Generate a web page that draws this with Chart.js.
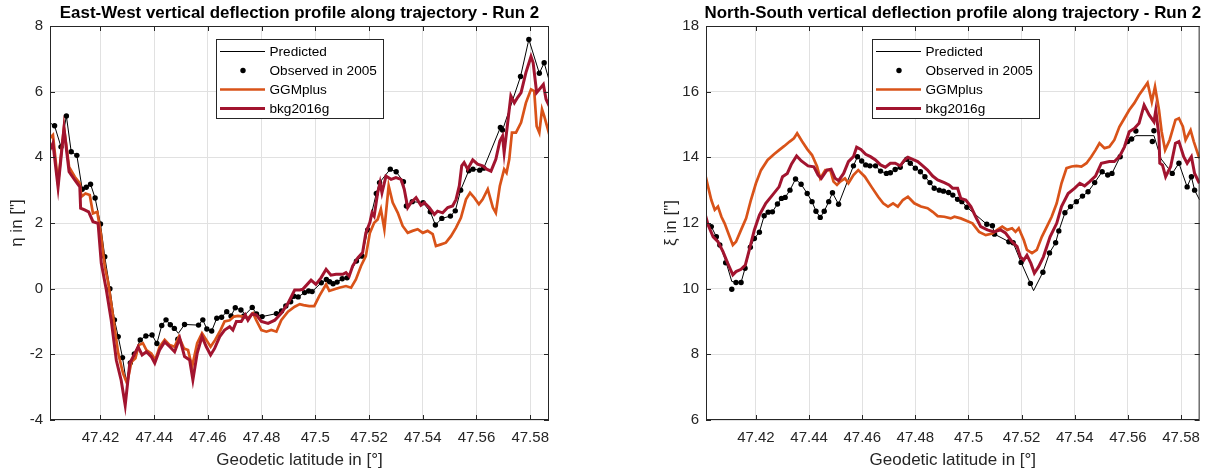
<!DOCTYPE html>
<html>
<head>
<meta charset="utf-8">
<script src="https://cdn.jsdelivr.net/npm/chart.js@4.4.1/dist/chart.umd.min.js"></script>
<style>
  html, body { margin: 0; padding: 0; background: #fff; }
  body { width: 1209px; height: 473px; position: relative; overflow: hidden; }
  .panel { position: absolute; top: 0; height: 473px; }
</style>
</head>
<body>
<div class="panel" style="left:0;width:604px"><canvas id="ew" width="604" height="473"></canvas></div>
<div class="panel" style="left:654px;width:555px"><canvas id="ns" width="555" height="473"></canvas></div>
<script>
// ---------- shared axis values ----------
const latTicks = [47.42, 47.44, 47.46, 47.48, 47.5, 47.52, 47.54, 47.56, 47.58];
const ewTicks = [-4, -2, 0, 2, 4, 6, 8];
const nsTicks = [6, 8, 10, 12, 14, 16, 18];
const seriesNames = ['Predicted', 'Observed in 2005', 'GGMplus', 'bkg2016g'];

// ---------- East-West component (eta) ----------
const ewObsLat = [47.4029,47.4053,47.4073,47.4091,47.4112,47.4132,47.4147,47.4163,47.4180,47.4200,
  47.4216,47.4235,47.4252,47.4266,47.4282,47.4311,47.4326,47.4348,47.4369,47.4392,
  47.4410,47.4428,47.4444,47.4460,47.4475,47.4488,47.4513,47.4565,47.4581,47.4596,
  47.4614,47.4633,47.4651,47.4670,47.4686,47.4702,47.4723,47.4734,47.4765,47.4781,
  47.4802,47.4855,47.4874,47.4890,47.4908,47.4920,47.4936,47.4960,47.4975,47.4988,
  47.5022,47.5041,47.5053,47.5066,47.5081,47.5100,47.5118,47.5153,47.5174,47.5195,
  47.5227,47.5239,47.5279,47.5301,47.5328,47.5339,47.5361,47.5401,47.5428,47.5447,
  47.5471,47.5503,47.5521,47.5541,47.5571,47.5587,47.5612,47.5627,47.5689,47.5697,
  47.5764,47.5795,47.5834,47.5852];
const ewObsVal = [4.96,4.32,5.26,4.17,4.06,3.03,3.09,3.18,2.76,1.97,
  0.97,0.00,-0.95,-1.46,-2.10,-2.26,-1.99,-1.56,-1.44,-1.41,
  -1.67,-1.12,-0.95,-1.10,-1.21,-1.54,-1.09,-1.11,-0.95,-1.23,
  -1.29,-0.90,-0.87,-0.70,-0.83,-0.58,-0.65,-0.83,-0.57,-0.77,
  -0.85,-0.76,-0.68,-0.53,-0.40,-0.23,-0.25,-0.12,-0.07,-0.09,
  0.18,0.28,0.21,0.15,0.20,0.30,0.33,0.84,0.99,1.79,
  2.90,3.23,3.64,3.56,3.26,2.52,2.65,2.62,2.34,1.94,
  2.14,2.21,2.37,3.00,3.59,3.64,3.61,3.67,4.91,4.83,
  6.46,7.59,6.56,6.88];

const ewPredLat = [47.4012,47.4029,47.4053,47.4073,47.4091,47.4112,47.4132,47.4147,47.4163,47.4180,47.4200,
  47.4216,47.4235,47.4252,47.4266,47.4282,47.4296,47.4311,47.4326,47.4348,47.4369,47.4392,
  47.4410,47.4428,47.4444,47.4460,47.4475,47.4490,47.4513,47.4565,47.4581,47.4596,
  47.4614,47.4633,47.4651,47.4670,47.4686,47.4702,47.4723,47.4740,47.4765,47.4781,
  47.4802,47.4855,47.4874,47.4890,47.4908,47.4920,47.4936,47.4960,47.4975,47.4988,
  47.5022,47.5041,47.5053,47.5066,47.5081,47.5100,47.5118,47.5153,47.5174,47.5195,
  47.5227,47.5239,47.5279,47.5301,47.5328,47.5339,47.5361,47.5401,47.5428,47.5447,
  47.5471,47.5503,47.5521,47.5541,47.5571,47.5587,47.5612,47.5627,47.5689,47.5697,
  47.5764,47.5795,47.5834,47.5852,47.5870];
const ewPredVal = [5.05,4.96,4.32,5.26,4.17,4.06,3.03,3.09,3.18,2.76,1.97,
  0.97,0.00,-0.95,-1.46,-2.10,-2.83,-2.26,-1.99,-1.56,-1.44,-1.41,
  -1.67,-1.12,-0.95,-1.10,-1.21,-1.36,-1.09,-1.11,-0.95,-1.23,
  -1.29,-0.90,-0.87,-0.70,-0.83,-0.58,-0.65,-0.78,-0.57,-0.77,
  -0.85,-0.76,-0.68,-0.53,-0.40,-0.23,-0.25,-0.12,-0.07,-0.09,
  0.18,0.28,0.21,0.15,0.20,0.30,0.33,0.84,0.99,1.79,
  2.90,3.23,3.64,3.56,3.26,2.52,2.65,2.62,2.34,1.94,
  2.14,2.21,2.37,3.00,3.59,3.64,3.61,3.67,4.91,4.83,
  6.46,7.59,6.56,6.88,6.36];

const ewGgmLat = [47.4011,47.4023,47.4042,47.4064,47.4083,47.4104,47.4123,47.4129,47.4144,47.4160,
  47.4172,47.4188,47.4201,47.4216,47.4228,47.4247,47.4266,47.4284,47.4299,47.4315,
  47.4330,47.4342,47.4358,47.4371,47.4389,47.4404,47.4420,47.4439,47.4458,47.4476,
  47.4492,47.4511,47.4526,47.4541,47.4560,47.4578,47.4594,47.4610,47.4627,47.4647,
  47.4662,47.4681,47.4697,47.4712,47.4731,47.4749,47.4768,47.4780,47.4799,47.4818,
  47.4836,47.4855,47.4873,47.4898,47.4923,47.4942,47.4956,47.4977,47.4996,47.5015,
  47.5040,47.5052,47.5071,47.5089,47.5114,47.5133,47.5151,47.5170,47.5188,47.5203,
  47.5219,47.5232,47.5244,47.5257,47.5273,47.5288,47.5307,47.5325,47.5344,47.5362,
  47.5381,47.5400,47.5418,47.5437,47.5449,47.5468,47.5486,47.5505,47.5524,47.5542,
  47.5561,47.5576,47.5592,47.5609,47.5623,47.5642,47.5661,47.5672,47.5687,47.5703,
  47.5712,47.5722,47.5732,47.5747,47.5766,47.5784,47.5803,47.5815,47.5824,47.5834,
  47.5844,47.5852,47.5871];
const ewGgmVal = [4.58,4.68,3.21,4.91,3.71,3.41,3.21,2.80,2.90,2.85,
  2.29,2.34,1.69,0.67,0.21,-0.85,-1.97,-2.58,-2.89,-2.23,
  -2.12,-1.72,-1.66,-1.87,-1.97,-2.17,-1.77,-1.56,-1.72,-1.77,
  -1.46,-1.82,-1.87,-2.38,-1.66,-1.36,-1.56,-1.77,-1.56,-1.26,
  -1.00,-0.96,-0.85,-0.83,-0.85,-0.90,-0.75,-0.96,-1.26,-1.31,
  -1.26,-1.31,-0.96,-0.70,-0.55,-0.47,-0.50,-0.53,-0.53,-0.22,
  0.13,-0.07,-0.02,0.03,0.08,0.03,0.28,0.69,0.99,1.70,
  2.01,2.11,2.42,1.81,3.13,2.62,2.31,1.91,1.70,1.76,
  1.81,1.70,1.76,1.66,1.30,1.35,1.40,1.60,1.86,2.16,
  2.72,2.92,2.77,2.57,2.72,3.03,2.47,2.31,3.13,3.64,
  3.53,3.94,4.75,4.75,5.06,5.66,6.07,6.02,4.95,4.75,
  5.46,5.26,4.70];

const ewBkgLat = [47.4011,47.4023,47.4042,47.4064,47.4083,47.4104,47.4123,47.4126,47.4141,47.4156,
  47.4172,47.4191,47.4203,47.4222,47.4240,47.4259,47.4277,47.4292,47.4309,47.4325,
  47.4340,47.4355,47.4371,47.4389,47.4402,47.4420,47.4439,47.4458,47.4476,47.4495,
  47.4513,47.4532,47.4544,47.4560,47.4578,47.4594,47.4610,47.4625,47.4644,47.4662,
  47.4681,47.4693,47.4706,47.4724,47.4739,47.4749,47.4764,47.4780,47.4799,47.4824,
  47.4849,47.4873,47.4898,47.4923,47.4942,47.4953,47.4984,47.5002,47.5021,47.5040,
  47.5058,47.5077,47.5102,47.5114,47.5126,47.5139,47.5158,47.5176,47.5188,47.5203,
  47.5211,47.5219,47.5232,47.5241,47.5248,47.5263,47.5282,47.5300,47.5319,47.5331,
  47.5344,47.5356,47.5375,47.5393,47.5406,47.5424,47.5443,47.5455,47.5474,47.5493,
  47.5511,47.5524,47.5536,47.5545,47.5554,47.5567,47.5586,47.5604,47.5623,47.5638,
  47.5654,47.5672,47.5687,47.5697,47.5703,47.5728,47.5741,47.5753,47.5766,47.5784,
  47.5803,47.5811,47.5824,47.5849,47.5859,47.5871];
const ewBkgVal = [4.22,4.43,3.09,4.88,3.56,3.31,3.10,2.45,2.40,2.34,
  2.04,1.99,0.77,-0.05,-0.96,-2.18,-2.79,-3.55,-2.27,-2.02,
  -1.77,-2.02,-1.92,-2.07,-2.27,-1.87,-1.62,-1.77,-1.92,-1.51,
  -2.07,-2.17,-2.78,-1.97,-1.46,-1.77,-2.02,-1.82,-1.46,-1.26,
  -1.16,-1.26,-1.00,-1.00,-0.80,-0.96,-0.77,-0.80,-1.00,-1.06,
  -0.96,-0.75,-0.45,-0.04,-0.04,-0.02,0.26,0.13,0.33,0.59,
  0.41,0.44,0.44,0.49,0.38,0.69,0.94,1.10,1.70,2.01,
  2.31,2.21,2.92,3.23,2.92,3.43,3.33,3.38,3.33,3.03,
  2.47,2.62,2.77,2.54,2.62,2.47,2.26,2.36,2.31,2.47,
  2.52,2.72,3.13,3.74,3.84,3.64,3.92,3.79,3.74,3.64,
  3.58,3.94,4.50,4.65,4.14,5.87,5.66,5.82,5.97,6.58,
  7.07,6.88,5.97,6.22,5.77,5.56];

// ---------- North-South component (xi) ----------
const nsObsLat = [47.4032,47.4051,47.4064,47.4086,47.4109,47.4125,47.4144,47.4159,47.4179,47.4194,
  47.4213,47.4231,47.4246,47.4262,47.4281,47.4296,47.4310,47.4328,47.4349,47.4370,
  47.4393,47.4411,47.4426,47.4442,47.4457,47.4474,47.4488,47.4511,47.4567,47.4582,
  47.4598,47.4613,47.4629,47.4650,47.4669,47.4691,47.4706,47.4724,47.4743,47.4768,
  47.4781,47.4800,47.4819,47.4836,47.4855,47.4871,47.4890,47.4906,47.4925,47.4941,
  47.4959,47.4975,47.4994,47.5069,47.5090,47.5098,47.5152,47.5168,47.5198,47.5233,
  47.5280,47.5305,47.5328,47.5340,47.5363,47.5384,47.5406,47.5429,47.5450,47.5475,
  47.5503,47.5524,47.5540,47.5571,47.5599,47.5614,47.5630,47.5692,47.5698,47.5767,
  47.5792,47.5823,47.5839,47.5851];
const nsObsVal = [11.89,11.58,11.33,10.79,9.98,10.19,10.19,10.62,11.26,11.53,
  11.72,12.22,12.33,12.34,12.58,12.75,12.78,13.00,13.34,13.18,
  12.90,12.65,12.36,12.17,12.36,12.65,12.92,12.57,13.74,14.02,
  13.89,13.77,13.74,13.74,13.58,13.51,13.53,13.63,13.70,13.94,
  13.82,13.67,13.56,13.41,13.23,13.06,13.00,12.97,12.93,12.85,
  12.72,12.65,12.48,11.96,11.92,11.66,11.43,11.40,10.80,10.16,
  10.50,11.09,11.40,11.76,12.31,12.50,12.65,12.82,12.95,13.23,
  13.56,13.46,13.51,14.02,14.48,14.56,14.80,14.48,14.81,13.51,
  13.82,13.10,13.41,13.00];

const nsPredLat = [47.4012,47.4032,47.4051,47.4064,47.4086,47.4109,47.4125,47.4144,47.4159,47.4179,47.4194,
  47.4213,47.4231,47.4246,47.4262,47.4281,47.4296,47.4310,47.4328,47.4349,47.4370,
  47.4393,47.4411,47.4426,47.4442,47.4457,47.4474,47.4488,47.4511,47.4567,47.4582,
  47.4598,47.4613,47.4629,47.4650,47.4669,47.4691,47.4706,47.4724,47.4743,47.4768,
  47.4781,47.4800,47.4819,47.4836,47.4855,47.4871,47.4890,47.4906,47.4925,47.4941,
  47.4959,47.4975,47.4994,47.5069,47.5090,47.5098,47.5152,47.5168,47.5198,47.5245,
  47.5280,47.5305,47.5328,47.5340,47.5363,47.5384,47.5406,47.5429,47.5450,47.5475,
  47.5503,47.5524,47.5540,47.5571,47.5599,47.5614,47.5630,47.5698,47.5725,47.5767,
  47.5792,47.5823,47.5839,47.5851,47.5870];
const nsPredVal = [12.10,11.89,11.58,11.33,10.85,10.22,10.19,10.19,10.62,11.26,11.53,
  11.72,12.22,12.33,12.34,12.58,12.75,12.78,13.00,13.34,13.18,
  12.90,12.65,12.36,12.17,12.36,12.65,12.92,12.57,13.74,14.02,
  13.89,13.77,13.74,13.74,13.58,13.51,13.53,13.63,13.70,13.94,
  13.82,13.67,13.56,13.41,13.23,13.06,13.00,12.97,12.93,12.85,
  12.72,12.65,12.48,11.96,11.92,11.66,11.43,11.40,10.80,9.94,
  10.50,11.09,11.40,11.76,12.31,12.50,12.65,12.82,12.95,13.23,
  13.56,13.46,13.51,14.02,14.48,14.56,14.66,14.66,13.95,13.51,
  13.82,13.10,13.41,13.00,12.70];

const nsGgmLat = [47.4008,47.4020,47.4032,47.4045,47.4057,47.4070,47.4082,47.4101,47.4113,47.4125,
  47.4144,47.4163,47.4181,47.4200,47.4219,47.4244,47.4269,47.4287,47.4306,47.4327,
  47.4343,47.4355,47.4374,47.4393,47.4411,47.4430,47.4442,47.4461,47.4480,47.4492,
  47.4505,47.4517,47.4535,47.4548,47.4567,47.4585,47.4610,47.4635,47.4660,47.4679,
  47.4697,47.4716,47.4734,47.4753,47.4772,47.4796,47.4821,47.4846,47.4865,47.4884,
  47.4909,47.4933,47.4947,47.4971,47.5015,47.5040,47.5065,47.5090,47.5108,47.5127,
  47.5146,47.5164,47.5177,47.5189,47.5208,47.5220,47.5239,47.5257,47.5276,47.5295,
  47.5313,47.5332,47.5350,47.5369,47.5388,47.5406,47.5425,47.5444,47.5462,47.5478,
  47.5493,47.5512,47.5530,47.5549,47.5568,47.5587,47.5605,47.5624,47.5642,47.5657,
  47.5674,47.5690,47.5702,47.5717,47.5727,47.5740,47.5757,47.5779,47.5792,47.5807,
  47.5817,47.5836,47.5848,47.5869];
const nsGgmVal = [13.51,13.10,12.70,12.40,12.50,12.19,11.99,11.58,11.33,11.43,
  11.79,12.14,12.70,13.21,13.61,13.92,14.10,14.22,14.34,14.48,
  14.58,14.73,14.48,14.25,14.07,13.72,13.36,13.61,13.61,13.26,
  13.16,13.26,13.36,13.21,13.46,13.61,13.41,13.10,12.80,12.60,
  12.50,12.60,12.50,12.70,12.80,12.60,12.50,12.45,12.34,12.21,
  12.19,12.14,12.19,12.14,11.99,11.73,11.63,11.68,11.79,11.89,
  11.79,11.84,11.73,11.84,11.48,11.18,11.08,11.18,11.58,11.89,
  12.19,12.60,13.21,13.67,13.72,13.74,13.72,13.82,14.02,14.22,
  14.43,14.28,14.32,14.53,14.93,15.19,15.44,15.65,15.90,16.07,
  16.27,15.69,16.15,15.44,14.78,14.22,14.53,15.14,15.19,14.93,
  14.53,14.83,14.48,13.97];

const nsBkgLat = [47.4008,47.4020,47.4039,47.4057,47.4076,47.4094,47.4113,47.4125,47.4144,47.4160,
  47.4175,47.4194,47.4213,47.4237,47.4262,47.4287,47.4300,47.4318,47.4334,47.4353,
  47.4371,47.4396,47.4418,47.4434,47.4446,47.4467,47.4483,47.4498,47.4511,47.4530,
  47.4548,47.4567,47.4579,47.4595,47.4613,47.4631,47.4650,47.4669,47.4687,47.4706,
  47.4724,47.4743,47.4759,47.4772,47.4790,47.4809,47.4828,47.4846,47.4865,47.4884,
  47.4909,47.4927,47.4940,47.4959,47.4971,47.4990,47.5009,47.5027,47.5046,47.5071,
  47.5096,47.5121,47.5139,47.5164,47.5183,47.5195,47.5208,47.5220,47.5235,47.5248,
  47.5264,47.5282,47.5307,47.5332,47.5350,47.5375,47.5400,47.5419,47.5437,47.5456,
  47.5478,47.5500,47.5530,47.5549,47.5568,47.5587,47.5605,47.5624,47.5642,47.5661,
  47.5680,47.5698,47.5705,47.5717,47.5720,47.5730,47.5742,47.5761,47.5779,47.5792,
  47.5810,47.5823,47.5839,47.5851,47.5869];
const nsBkgVal = [12.29,11.94,11.58,11.43,11.13,10.77,10.42,10.52,10.59,10.72,
  11.18,11.79,12.24,12.60,12.85,13.10,13.41,13.51,13.80,14.04,
  13.89,13.74,13.71,13.46,13.36,13.61,13.64,13.36,13.29,13.51,
  13.87,14.02,14.31,14.24,14.09,14.02,13.92,13.77,13.70,13.82,
  13.82,13.74,13.92,14.00,13.94,13.87,13.74,13.61,13.43,13.31,
  13.23,13.16,13.06,13.06,12.75,12.70,12.50,12.19,11.89,11.79,
  11.73,11.79,11.70,11.43,11.28,10.97,10.87,11.02,10.77,10.47,
  10.67,10.97,11.58,11.99,12.50,12.90,13.06,13.21,13.13,13.26,
  13.43,13.82,13.87,13.87,14.02,14.32,14.78,14.88,15.04,15.59,
  15.29,15.08,15.44,14.63,13.82,13.77,13.41,13.72,14.43,14.48,
  14.02,13.82,14.02,13.51,13.21];

// ---------- styling ----------
const FONT = "'Liberation Sans', Arial, Helvetica, sans-serif";
const INK = '#262626';
const GRID = '#e1e1e1';
const COLORS = ['#000000', '#000000', '#D95319', '#A2142F'];

const toPoints = (lat, val) => lat.map((x, i) => ({ x, y: val[i] }));

// Bold title centred over the plotting area
const panelTitle = {
  id: 'panelTitle',
  afterDraw(chart, args, opts) {
    const { ctx, chartArea: a } = chart;
    ctx.save();
    ctx.font = `bold 16.9px ${FONT}`;
    ctx.fillStyle = '#000';
    ctx.textAlign = 'center';
    ctx.textBaseline = 'middle';
    ctx.fillText(opts.text, (a.left + a.right) / 2, 13);
    ctx.restore();
  }
};

// Closed axes box with inward tick marks on all four sides
const axesBox = {
  id: 'axesBox',
  afterDatasetsDraw(chart) {
    const { ctx, chartArea: a, scales: { x, y } } = chart;
    const L = 5;
    ctx.save();
    ctx.strokeStyle = INK;
    ctx.lineWidth = 1;
    ctx.strokeRect(a.left + 0.5, a.top + 0.5, a.right - a.left - 1, a.bottom - a.top - 1);
    ctx.beginPath();
    x.ticks.forEach(t => {
      const p = Math.round(x.getPixelForValue(t.value)) + 0.5;
      ctx.moveTo(p, a.bottom); ctx.lineTo(p, a.bottom - L);
      ctx.moveTo(p, a.top); ctx.lineTo(p, a.top + L);
    });
    y.ticks.forEach(t => {
      const p = Math.round(y.getPixelForValue(t.value)) + 0.5;
      ctx.moveTo(a.left, p); ctx.lineTo(a.left + L, p);
      ctx.moveTo(a.right, p); ctx.lineTo(a.right - L, p);
    });
    ctx.stroke();
    ctx.restore();
  }
};

// Boxed legend inside the axes, top area
const boxLegend = {
  id: 'boxLegend',
  afterDraw(chart, args, o) {
    const { ctx, chartArea: a } = chart;
    const x0 = Math.round(a.left + o.dx), y0 = Math.round(a.top + o.dy);
    ctx.save();
    ctx.fillStyle = '#fff';
    ctx.fillRect(x0, y0, o.w, o.h);
    ctx.strokeStyle = INK;
    ctx.lineWidth = 1;
    ctx.strokeRect(x0 + 0.5, y0 + 0.5, o.w, o.h);
    ctx.font = `13.6px ${FONT}`;
    ctx.textBaseline = 'middle';
    ctx.textAlign = 'left';
    chart.data.datasets.forEach((ds, i) => {
      const yy = y0 + 12.5 + i * 19;
      if (ds.showLine === false) {
        ctx.fillStyle = ds.pointBackgroundColor;
        ctx.beginPath();
        ctx.arc(x0 + 27, yy, ds.pointRadius, 0, Math.PI * 2);
        ctx.fill();
      } else {
        ctx.strokeStyle = ds.borderColor;
        ctx.lineWidth = ds.borderWidth;
        ctx.beginPath();
        ctx.moveTo(x0 + 4, yy);
        ctx.lineTo(x0 + 49, yy);
        ctx.stroke();
      }
      ctx.fillStyle = '#000';
      ctx.fillText(ds.label, x0 + 53.5, yy + 0.5);
    });
    ctx.restore();
  }
};

function makePanel(id, p) {
  const lineDs = (i, lat, val, width, order) => ({
    label: seriesNames[i], data: toPoints(lat, val), borderColor: COLORS[i],
    borderWidth: width, pointRadius: 0, tension: 0, clip: 0, order
  });
  return new Chart(document.getElementById(id), {
    type: 'line',
    data: {
      datasets: [
        lineDs(0, p.predLat, p.predVal, 1, 3),
        { label: seriesNames[1], data: toPoints(p.obsLat, p.obsVal), showLine: false,
          pointRadius: 2.7, pointBorderWidth: 0, pointBackgroundColor: COLORS[1],
          borderColor: COLORS[1], clip: 0, order: 2 },
        lineDs(2, p.ggmLat, p.ggmVal, 2.7, 1),
        lineDs(3, p.bkgLat, p.bkgVal, 3, 0)
      ]
    },
    options: {
      responsive: false,
      animation: false,
      events: [],
      layout: { padding: { top: 26, right: p.padRight, left: 0, bottom: 0 } },
      plugins: {
        legend: { display: false },
        tooltip: { enabled: false },
        panelTitle: { text: p.title },
        boxLegend: { dx: 166, dy: 13, w: 167, h: 79 }
      },
      scales: {
        x: {
          type: 'linear', min: 47.4012, max: 47.587,
          afterBuildTicks: s => { s.ticks = latTicks.map(v => ({ value: v })); },
          afterFit: s => { s.height = 53; },
          ticks: { callback: v => String(+(+v).toFixed(2)), color: INK, padding: 9,
                   maxRotation: 0, autoSkip: false, font: { family: FONT, size: 15 } },
          grid: { color: GRID, lineWidth: 1, drawTicks: false },
          border: { display: false },
          title: { display: true, text: 'Geodetic latitude in [°]', color: INK,
                   font: { family: FONT, size: 17 }, padding: { top: 0, bottom: 2 } }
        },
        y: {
          type: 'linear', min: p.yTicks[0], max: p.yTicks[p.yTicks.length - 1],
          afterBuildTicks: s => { s.ticks = p.yTicks.map(v => ({ value: v })); },
          afterFit: s => { s.width = p.yWidth; },
          ticks: { color: INK, padding: 7, font: { family: FONT, size: 15 } },
          grid: { color: GRID, lineWidth: 1, drawTicks: false },
          border: { display: false },
          title: { display: true, text: p.yTitle, color: INK,
                   font: { family: FONT, size: 17 }, padding: { top: 7, bottom: 0 } }
        }
      }
    },
    plugins: [panelTitle, axesBox, boxLegend]
  });
}

makePanel('ew', {
  title: 'East-West vertical deflection profile along trajectory - Run 2',
  yTitle: 'η in ["]', yTicks: ewTicks, yWidth: 50, padRight: 55,
  obsLat: ewObsLat, obsVal: ewObsVal, predLat: ewPredLat, predVal: ewPredVal,
  ggmLat: ewGgmLat, ggmVal: ewGgmVal, bkgLat: ewBkgLat, bkgVal: ewBkgVal
});

makePanel('ns', {
  title: 'North-South vertical deflection profile along trajectory - Run 2',
  yTitle: 'ξ in ["]', yTicks: nsTicks, yWidth: 52, padRight: 5,
  obsLat: nsObsLat, obsVal: nsObsVal, predLat: nsPredLat, predVal: nsPredVal,
  ggmLat: nsGgmLat, ggmVal: nsGgmVal, bkgLat: nsBkgLat, bkgVal: nsBkgVal
});
</script>
</body>
</html>
